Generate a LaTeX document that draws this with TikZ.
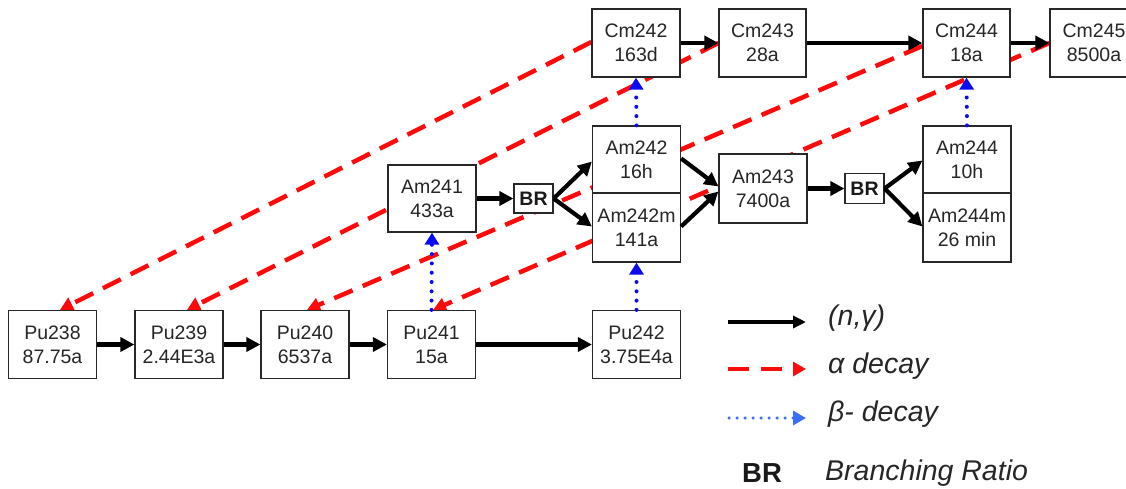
\documentclass[tikz,border=0pt]{standalone}
\usepackage{fontspec}
\setmainfont{Liberation Sans}
\usetikzlibrary{arrows.meta}
\pgfdeclarelayer{bg}
\pgfsetlayers{bg,main}
\definecolor{alphared}{RGB}{255,10,10}
\definecolor{betablue}{RGB}{10,10,245}
\definecolor{legblue}{RGB}{60,110,250}
\definecolor{boxline}{RGB}{40,40,40}
\begin{document}
\begin{tikzpicture}[x=1pt,y=-1pt,
  box/.style={draw=boxline, line width=1.2pt, fill=white, minimum width=88pt, minimum height=68pt,
    align=center, inner sep=0pt, text=black!85, font=\fontsize{19.5}{24}\selectfont},
  brbox/.style={draw=boxline, line width=1.2pt, fill=white, minimum width=39pt, minimum height=29pt,
    inner sep=0pt, text=black!90, font=\fontsize{19.5}{24}\selectfont\bfseries},
  ng/.style={draw=black, line width=4.2pt, -{Triangle[length=14pt,width=14pt]}},
  alphad/.style={draw=alphared, line width=4.5pt, dash pattern=on 20pt off 11pt,
    -{Triangle[length=13pt,width=14pt]}},
  betad/.style={draw=betablue, line width=4pt, line cap=round, dash pattern=on 0pt off 9.3pt,
    -{Triangle[length=12pt,width=14pt]}},
  legtext/.style={anchor=west, inner sep=0pt, font=\fontsize{28.5}{32}\selectfont\itshape, text=black!85}
]
\useasboundingbox (0,0) rectangle (1126,488);

% Pu row
\node[box] (Pu238) at (52.5,344.5) {Pu238\\87.75a};
\node[box] (Pu239) at (179,344.5) {Pu239\\2.44E3a};
\node[box] (Pu240) at (305,344.5) {Pu240\\6537a};
\node[box] (Pu241) at (431.5,344.5) {Pu241\\15a};
\node[box] (Pu242) at (636.5,344.5) {Pu242\\3.75E4a};

% Am row
\node[box, minimum height=67pt] (Am241) at (432,198.5) {Am241\\433a};
\node[brbox] (BR1) at (533.5,198.5) {BR};
\node[box, minimum height=67pt] (Am242) at (636.5,159.5) {Am242\\16h};
\node[box, minimum height=69pt] (Am242m) at (636.5,227.5) {Am242m\\141a};
\node[box, minimum height=69pt] (Am243) at (763,188.5) {Am243\\7400a};
\node[brbox, minimum height=30pt] (BR2) at (864.5,188.5) {BR};
\node[box, minimum height=67pt] (Am244) at (967,159.5) {Am244\\10h};
\node[box, minimum height=69pt] (Am244m) at (967,227.5) {Am244m\\26 min};

% Cm row
\node[box, minimum height=68pt] (Cm242) at (636,43) {Cm242\\163d};
\node[box, minimum height=68pt, minimum width=87pt] (Cm243) at (762.5,43) {Cm243\\28a};
\node[box, minimum height=68pt, minimum width=87pt] (Cm244) at (966.5,43) {Cm244\\18a};
\node[box, minimum height=68pt] (Cm245) at (1094,43) {Cm245\\8500a};

% alpha decays (behind boxes)
\begin{pgfonlayer}{bg}
\draw[alphad] ([yshift=1pt]Cm242.west) -- ([xshift=7.5pt]Pu238.north);
\draw[alphad] (Cm243.west) -- ([xshift=8pt]Pu239.north);
\draw[alphad] ([yshift=-3pt]Cm244.west) -- ([xshift=2pt]Pu240.north);
\draw[alphad] (Cm245.west) -- ([xshift=1.5pt]Pu241.north);
\end{pgfonlayer}

% beta decays
\draw[betad] (Pu241.north) -- (Am241.south);
\draw[betad] (Pu242.north) -- (Am242m.south);
\draw[betad] (Am242.north) -- (Cm242.south);
\draw[betad] (Am244.north) -- (Cm244.south);

% (n,gamma)
\draw[ng] (Pu238) -- (Pu239);
\draw[ng] (Pu239) -- (Pu240);
\draw[ng] (Pu240) -- (Pu241);
\draw[ng] (Pu241) -- (Pu242);
\draw[ng] (Am241) -- (BR1);
\draw[ng] (BR1.east) -- ([yshift=-2pt]Am242.west);
\draw[ng] (BR1.east) -- ([yshift=1pt]Am242m.west);
\draw[ng] ([yshift=1pt]Am242.east) -- ([yshift=2pt]Am243.west);
\draw[ng] ([yshift=1pt]Am242m.east) -- ([yshift=-3pt]Am243.west);
\draw[ng] (Am243) -- (BR2);
\draw[ng] (BR2.east) -- ([yshift=-1pt]Am244.west);
\draw[ng] (BR2.east) -- ([yshift=1pt]Am244m.west);
\draw[ng] (Cm242) -- (Cm243);
\draw[ng] (Cm243) -- (Cm244);
\draw[ng] (Cm244) -- (Cm245);

% legend
\coordinate (l1a) at (728,322); \coordinate (l1b) at (806,322);
\coordinate (l2a) at (728,369); \coordinate (l2b) at (806,369);
\coordinate (l3a) at (729,418); \coordinate (l3b) at (806,418);
\draw[ng, line width=3.5pt, -{Triangle[length=13pt,width=12pt]}] (l1a) -- (l1b);
\draw[alphad, dash pattern=on 21pt off 12pt] (l2a) -- (l2b);
\draw[betad, draw=legblue, line width=3.5pt, dash pattern=on 0pt off 8pt,
  -{Triangle[length=13pt,width=14pt]}] (l3a) -- (l3b);
\node[legtext] (t1) at (828,318) {(n,γ)};
\node[legtext] (t2) at (828,366) {α decay};
\node[legtext] (t3) at (828,414) {β- decay};
\node[inner sep=0pt, text=black!90, font=\fontsize{27.5}{30}\selectfont\bfseries] (tbr) at (762,473) {BR};
\node[legtext] (t4) at (825,473) {Branching Ratio};
\end{tikzpicture}
\end{document}
